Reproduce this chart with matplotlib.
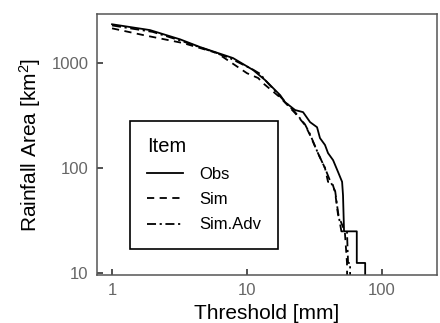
import matplotlib
matplotlib.use("Agg")
import matplotlib.pyplot as plt

plt.rcParams["font.family"] = ["Liberation Sans", "DejaVu Sans"]
plt.rcParams["mathtext.fontset"] = "custom"
plt.rcParams["mathtext.rm"] = "Liberation Sans"
plt.rcParams["mathtext.it"] = "Liberation Sans:italic"

# ── data (threshold mm, area km2) ────────────────────────────────────────────
obs_x = [1, 1.91, 3.2, 4.49, 7.87, 11.1, 13.6, 17.6, 19.1, 22.7, 26.0, 29.3,
         33.0, 34.7, 37.8, 39.8, 43.4, 47.2, 50.6, 51.4, 52.3, 65.0, 65.0,
         75.0, 75.0]
obs_y = [2340, 2060, 1680, 1420, 1116, 858, 689, 495, 425, 357, 341, 274,
         245, 193, 166, 139, 119, 92, 74, 55, 25, 25, 12.5, 12.5, 1]

sim_x = [1, 1.70, 3.36, 6.0, 10.0, 12.1, 13.1, 17.6, 22.7, 26.9, 29.3, 33.5,
         37.8, 39.8, 42.5, 44.9, 47.2, 50, 53, 55, 56]
sim_y = [2140, 1848, 1550, 1245, 800, 720, 645, 470, 334, 257, 206, 139,
         100, 74, 74, 59, 36, 30, 25, 12.5, 1]

adv_x = [1, 2.0, 3.2, 5.5, 7.5, 11.0, 12.5, 13.6, 17.6, 22.7, 26.9, 29.3,
         33.5, 37.8, 41.0, 45.0, 47.2, 50, 55, 56, 58, 58]
adv_y = [2280, 1980, 1640, 1290, 1110, 870, 790, 690, 480, 340, 260, 210,
         139, 100, 77, 60, 38, 25, 25, 12.5, 12.5, 1]

X_TICKS = [1, 10, 100]
Y_TICKS = [10, 100, 1000]

fig = plt.figure(figsize=(4.4, 3.23), dpi=100)
ax = fig.add_axes([0.2205, 0.1486, 0.7725, 0.808])

LW = 1.3
ax.plot(obs_x, obs_y, color="black", lw=LW, label="Obs")
ax.plot(sim_x, sim_y, color="black", lw=LW, dashes=(4, 3), label="Sim")
ax.plot(adv_x, adv_y, color="black", lw=LW, dashes=(5, 2, 1.2, 2), label="Sim.Adv")

ax.set_xscale("log")
ax.set_yscale("log")
ax.set_xlim(0.774, 255)
ax.set_ylim(9.6, 2930)

ax.set_xticks(X_TICKS)
ax.set_xticklabels([str(t) for t in X_TICKS])
ax.set_yticks(Y_TICKS)
ax.set_yticklabels([str(t) for t in Y_TICKS])
ax.minorticks_off()
ax.tick_params(direction="in", length=4, width=1.2, color="#333333",
               labelsize=12, labelcolor="#666666", pad=6)

for sp in ax.spines.values():
    sp.set_color("#555555")
    sp.set_linewidth(1.1)

ax.set_xlabel("Threshold [mm]", fontsize=15, labelpad=4)
ax.set_ylabel("Rainfall Area [km$^2$]", fontsize=15, labelpad=6)

leg = ax.legend(loc="lower left", bbox_to_anchor=(0.097, 0.0996),
                title="Item", fontsize=12, title_fontsize=14.5,
                frameon=True, fancybox=False, edgecolor="black",
                handlelength=2.2, handletextpad=0.95, labelspacing=0.62,
                borderpad=1.0, borderaxespad=0, alignment="left")
leg.get_frame().set_linewidth(1.2)
leg.get_frame().set_alpha(1)

fig.savefig("out.png", dpi=100)
